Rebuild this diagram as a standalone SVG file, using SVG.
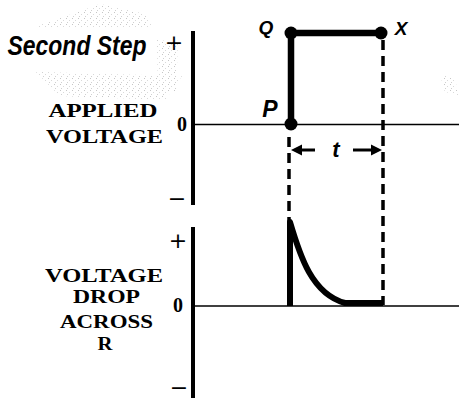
<svg xmlns="http://www.w3.org/2000/svg" width="459" height="405" viewBox="0 0 459 405">
<style>
.axis{stroke:#000;stroke-width:4;fill:none}
.zero{stroke:#000;stroke-width:1.6;fill:none}
.dash{stroke:#000;stroke-width:3.5;stroke-dasharray:10 6;fill:none}
.thick{stroke:#000;stroke-width:6;fill:none;stroke-linecap:butt}
.lab{font-family:"Liberation Serif","Times New Roman",serif;font-weight:bold;font-size:18px;fill:#000;text-anchor:middle}
.sym{font-family:"Liberation Serif","Times New Roman",serif;font-weight:bold;font-size:20px;fill:#000;text-anchor:middle}
.pm{font-family:"DejaVu Sans","Liberation Sans",sans-serif;font-size:22px;fill:#000;text-anchor:middle}
.hand{font-family:"Liberation Sans",Arial,sans-serif;font-weight:bold;font-style:italic;fill:#000;text-anchor:middle}
</style>
<defs>
<pattern id="stip" width="6" height="6" patternUnits="userSpaceOnUse">
<rect x="0" y="0" width="1" height="1" fill="#999"/>
<rect x="3" y="2" width="1" height="1" fill="#bbb"/>
<rect x="1" y="4" width="1" height="1" fill="#aaa"/>
</pattern>
</defs>
<rect width="459" height="405" fill="#fff"/>
<g id="stipple" opacity="0.55">
<polygon points="35,27 100,4 145,14 152,27" fill="url(#stip)"/>
<polygon points="36,72 182,76 165,100 60,96" fill="url(#stip)"/>
<polygon points="157,40 178,42 176,92 158,92" fill="url(#stip)"/>
<polygon points="440,75 455,78 458,95 445,92" fill="url(#stip)"/>
</g>
<g id="title"><text class="hand" transform="translate(77,55) scale(0.85,1)" x="0" y="0" font-size="27">Second Step</text></g>
<g id="top-axis">
<line class="axis" x1="193" y1="31" x2="193" y2="205"/>
<line class="zero" x1="193" y1="124.5" x2="459" y2="124.5"/>
<text class="pm" x="174" y="50">+</text>
<text class="sym" x="182" y="131">0</text>
<text class="pm" x="177" y="206">−</text>
</g>
<g id="top-label">
<text class="lab" x="103" y="117" textLength="109" lengthAdjust="spacingAndGlyphs">APPLIED</text>
<text class="lab" x="104.5" y="143" textLength="117" lengthAdjust="spacingAndGlyphs">VOLTAGE</text>
</g>
<g id="bottom-axis">
<line class="axis" x1="193" y1="227" x2="193" y2="398"/>
<line class="zero" x1="193" y1="306" x2="459" y2="306"/>
<text class="pm" x="178" y="248">+</text>
<text class="sym" x="178" y="312">0</text>
<text class="pm" x="179" y="395">−</text>
</g>
<g id="bottom-label">
<text class="lab" x="104" y="282" textLength="118" lengthAdjust="spacingAndGlyphs">VOLTAGE</text>
<text class="lab" x="106.5" y="303" textLength="67" lengthAdjust="spacingAndGlyphs">DROP</text>
<text class="lab" x="106.5" y="328" textLength="93" lengthAdjust="spacingAndGlyphs">ACROSS</text>
<text class="lab" x="105" y="350" textLength="15" lengthAdjust="spacingAndGlyphs">R</text>
</g>
<g id="connectors">
<line class="dash" x1="289" y1="137" x2="289" y2="222"/>
<line class="dash" x1="383" y1="40" x2="383" y2="305"/>
<line x1="301" y1="150" x2="315" y2="150" stroke="#000" stroke-width="3"/>
<polygon points="291,150 302,144.5 302,155.5" fill="#000"/>
<line x1="353" y1="150" x2="372" y2="150" stroke="#000" stroke-width="3"/>
<polygon points="382,150 371,144.5 371,155.5" fill="#000"/>
</g>
<g id="pulse">
<path d="M291,124 L291,33 L381,33" stroke="#000" stroke-width="6.5" fill="none"/>
<circle cx="291" cy="124" r="6.5" fill="#000"/>
<circle cx="291" cy="33" r="6.5" fill="#000"/>
<circle cx="381" cy="33" r="6.5" fill="#000"/>
<text class="hand" x="266" y="34" font-size="19">Q</text>
<text class="hand" x="401" y="35" font-size="19">X</text>
<text class="hand" x="270" y="117" font-size="23">P</text>
<text class="hand" x="336" y="157" font-size="22">t</text>
</g>
<g id="response">
<path d="M290,306 L290,222 C300,256 312,294 345,303 L383,303" class="thick" stroke-width="6.5" stroke-linejoin="round"/>
</g>
</svg>
